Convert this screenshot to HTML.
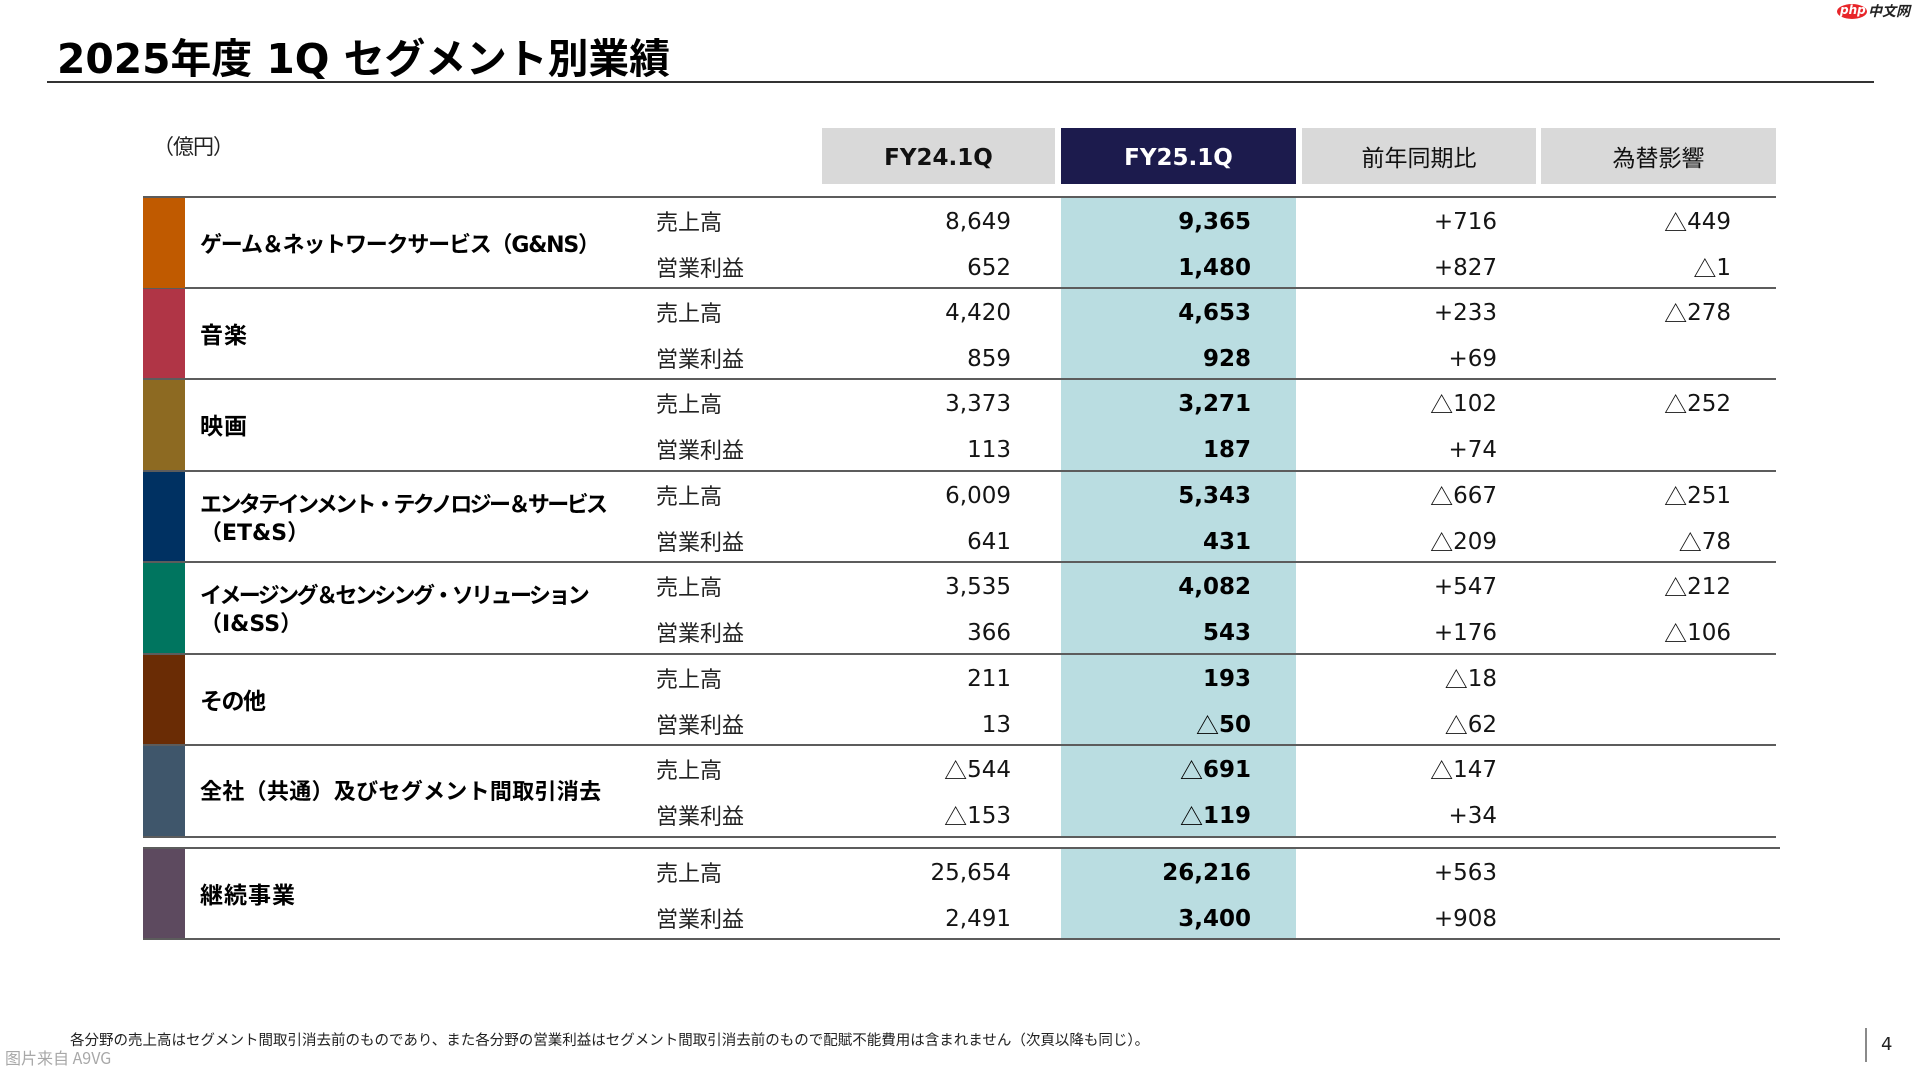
<!DOCTYPE html>
<html lang="ja">
<head>
<meta charset="utf-8">
<style>
  html,body{margin:0;padding:0;background:#fff;}
  body{width:1919px;height:1068px;position:relative;overflow:hidden;
       font-family:"DejaVu Sans","Noto Sans CJK JP",sans-serif;color:#141414;}
  .abs{position:absolute;}
  .title{position:absolute;left:57px;top:37px;font-size:40.8px;font-weight:bold;line-height:44px;white-space:nowrap;color:#000;}
  .tline{position:absolute;left:47px;top:81px;width:1827px;height:2px;background:#333;}
  .unit{position:absolute;left:153px;top:133px;font-size:21px;line-height:26px;letter-spacing:-1px;font-family:"Noto Sans CJK JP",sans-serif;color:#222;}
  .hd{position:absolute;top:128px;height:56px;line-height:56px;text-align:center;background:#d9d9d9;font-size:23px;color:#111;}
  .hd.b{font-weight:bold;line-height:61px;}
  .hd.navy{background:#1c1b4d;color:#fff;font-weight:bold;line-height:61px;}
  .hd.j{font-family:"Noto Sans CJK JP",sans-serif;font-size:23px;}
  .blue{position:absolute;left:1061px;width:235px;background:#badde1;}
  .line{position:absolute;left:143px;width:1633px;height:2px;background:#5c5c5c;}
  .blk{position:absolute;left:0;width:1919px;height:91px;}
  .bar{position:absolute;left:143px;top:1px;width:42px;height:89px;}
  .name{position:absolute;left:200px;font-size:22px;font-weight:bold;line-height:28px;white-space:nowrap;color:#000;}
  .name.k{font-size:23px;}
  .lab{position:absolute;left:656px;font-size:22px;line-height:46px;font-family:"Noto Sans CJK JP",sans-serif;color:#222;}
  .r1{top:1px;} .r2{top:47px;}
  .n{position:absolute;width:220px;text-align:right;font-size:23px;line-height:46px;height:46px;white-space:nowrap;color:#141414;margin-top:1px;}
  .n .t{font-family:"Noto Sans CJK JP",sans-serif;font-weight:normal;line-height:20px;display:inline-block;vertical-align:-2px;}
  .c1{left:791px;}
  .c2{left:1031px;font-weight:bold;color:#000;}
  .c3{left:1277px;}
  .c4{left:1511px;}
  .foot{position:absolute;left:70px;top:1030px;font-size:14.5px;line-height:20px;white-space:nowrap;font-family:"Noto Sans CJK JP",sans-serif;color:#222;}
  .wm{position:absolute;left:5px;top:1047px;font-size:16px;line-height:20px;color:#a8a8a8;white-space:nowrap;font-family:"Noto Sans CJK SC",sans-serif;}
  .pn{position:absolute;left:1881px;top:1034px;font-size:18px;line-height:22px;color:#222;}
  .pline{position:absolute;left:1865px;top:1028px;width:2px;height:34px;background:#8a8a8a;}
</style>
</head>
<body>

<div class="title">2025年度 1Q セグメント別業績</div>
<div class="tline"></div>

<!-- watermark top right -->
<div class="abs" style="left:1837px;top:4px;width:30px;height:15px;border-radius:50%;background:#e8262a;"></div>
<div class="abs" style="left:1840px;top:2px;font-size:12px;line-height:17px;color:#fff;font-style:italic;font-weight:bold;">php</div>
<div class="abs" style="left:1868px;top:2px;font-size:14px;line-height:18px;color:#222;font-style:italic;font-weight:bold;font-family:'Noto Sans CJK SC',sans-serif;">中文网</div>

<div class="unit">（億円）</div>

<div class="hd b" style="left:822px;width:233px;">FY24.1Q</div>
<div class="hd navy" style="left:1061px;width:235px;">FY25.1Q</div>
<div class="hd j" style="left:1302px;width:234px;">前年同期比</div>
<div class="hd j" style="left:1541px;width:235px;">為替影響</div>

<div class="blue" style="top:198px;height:638px;"></div>
<div class="blue" style="top:849px;height:89px;"></div>

<div class="line" style="top:196px;"></div>
<div class="line" style="top:287px;"></div>
<div class="line" style="top:378px;"></div>
<div class="line" style="top:470px;"></div>
<div class="line" style="top:561px;"></div>
<div class="line" style="top:653px;"></div>
<div class="line" style="top:744px;"></div>
<div class="line" style="top:836px;"></div>
<div class="line" style="top:847px;width:1637px;"></div>
<div class="line" style="top:938px;width:1637px;"></div>

<!-- G&NS -->
<div class="blk" style="top:197px;">
  <div class="bar" style="background:#c05a00;height:90px;"></div>
  <div class="name" style="top:35px;letter-spacing:-1.2px;">ゲーム＆ネットワークサービス（G&amp;NS）</div>
  <div class="lab r1">売上高</div><div class="lab r2">営業利益</div>
  <div class="n c1 r1">8,649</div><div class="n c2 r1">9,365</div><div class="n c3 r1">+716</div><div class="n c4 r1"><span class="t">△</span>449</div>
  <div class="n c1 r2">652</div><div class="n c2 r2">1,480</div><div class="n c3 r2">+827</div><div class="n c4 r2"><span class="t">△</span>1</div>
</div>

<!-- 音楽 -->
<div class="blk" style="top:288px;">
  <div class="bar" style="background:#b03546;"></div>
  <div class="name k" style="top:34px;letter-spacing:1px;">音楽</div>
  <div class="lab r1">売上高</div><div class="lab r2">営業利益</div>
  <div class="n c1 r1">4,420</div><div class="n c2 r1">4,653</div><div class="n c3 r1">+233</div><div class="n c4 r1"><span class="t">△</span>278</div>
  <div class="n c1 r2">859</div><div class="n c2 r2">928</div><div class="n c3 r2">+69</div>
</div>

<!-- 映画 -->
<div class="blk" style="top:379px;">
  <div class="bar" style="background:#8d6a22;height:90px;"></div>
  <div class="name k" style="top:34px;letter-spacing:1px;">映画</div>
  <div class="lab r1">売上高</div><div class="lab r2">営業利益</div>
  <div class="n c1 r1">3,373</div><div class="n c2 r1">3,271</div><div class="n c3 r1"><span class="t">△</span>102</div><div class="n c4 r1"><span class="t">△</span>252</div>
  <div class="n c1 r2">113</div><div class="n c2 r2">187</div><div class="n c3 r2">+74</div>
</div>

<!-- ET&S -->
<div class="blk" style="top:471px;">
  <div class="bar" style="background:#003162;"></div>
  <div class="name" style="top:21px;letter-spacing:-2.6px;">エンタテインメント・テクノロジー＆サービス<br><span style="letter-spacing:0">（ET&amp;S）</span></div>
  <div class="lab r1">売上高</div><div class="lab r2">営業利益</div>
  <div class="n c1 r1">6,009</div><div class="n c2 r1">5,343</div><div class="n c3 r1"><span class="t">△</span>667</div><div class="n c4 r1"><span class="t">△</span>251</div>
  <div class="n c1 r2">641</div><div class="n c2 r2">431</div><div class="n c3 r2"><span class="t">△</span>209</div><div class="n c4 r2"><span class="t">△</span>78</div>
</div>

<!-- I&SS -->
<div class="blk" style="top:562px;">
  <div class="bar" style="background:#00755f;height:90px;"></div>
  <div class="name" style="top:21px;letter-spacing:-2.6px;">イメージング＆センシング・ソリューション<br><span style="letter-spacing:0">（I&amp;SS）</span></div>
  <div class="lab r1">売上高</div><div class="lab r2">営業利益</div>
  <div class="n c1 r1">3,535</div><div class="n c2 r1">4,082</div><div class="n c3 r1">+547</div><div class="n c4 r1"><span class="t">△</span>212</div>
  <div class="n c1 r2">366</div><div class="n c2 r2">543</div><div class="n c3 r2">+176</div><div class="n c4 r2"><span class="t">△</span>106</div>
</div>

<!-- その他 -->
<div class="blk" style="top:654px;">
  <div class="bar" style="background:#6a2c05;"></div>
  <div class="name k" style="top:34px;letter-spacing:-1.5px;">その他</div>
  <div class="lab r1">売上高</div><div class="lab r2">営業利益</div>
  <div class="n c1 r1">211</div><div class="n c2 r1">193</div><div class="n c3 r1"><span class="t">△</span>18</div>
  <div class="n c1 r2">13</div><div class="n c2 r2"><span class="t">△</span>50</div><div class="n c3 r2"><span class="t">△</span>62</div>
</div>

<!-- 全社 -->
<div class="blk" style="top:745px;">
  <div class="bar" style="background:#3f566b;height:90px;"></div>
  <div class="name" style="top:34px;letter-spacing:0.3px;">全社（共通）及びセグメント間取引消去</div>
  <div class="lab r1">売上高</div><div class="lab r2">営業利益</div>
  <div class="n c1 r1"><span class="t">△</span>544</div><div class="n c2 r1"><span class="t">△</span>691</div><div class="n c3 r1"><span class="t">△</span>147</div>
  <div class="n c1 r2"><span class="t">△</span>153</div><div class="n c2 r2"><span class="t">△</span>119</div><div class="n c3 r2">+34</div>
</div>

<!-- 継続事業 -->
<div class="blk" style="top:848px;">
  <div class="bar" style="background:#5d4a5f;height:89px;"></div>
  <div class="name k" style="top:34px;letter-spacing:1px;">継続事業</div>
  <div class="lab r1">売上高</div><div class="lab r2">営業利益</div>
  <div class="n c1 r1">25,654</div><div class="n c2 r1">26,216</div><div class="n c3 r1">+563</div>
  <div class="n c1 r2">2,491</div><div class="n c2 r2">3,400</div><div class="n c3 r2">+908</div>
</div>

<div class="foot">各分野の売上高はセグメント間取引消去前のものであり、また各分野の営業利益はセグメント間取引消去前のもので配賦不能費用は含まれません（次頁以降も同じ）。</div>
<div class="wm">图片来自 A9VG</div>
<div class="pline"></div>
<div class="pn">4</div>

</body>
</html>
